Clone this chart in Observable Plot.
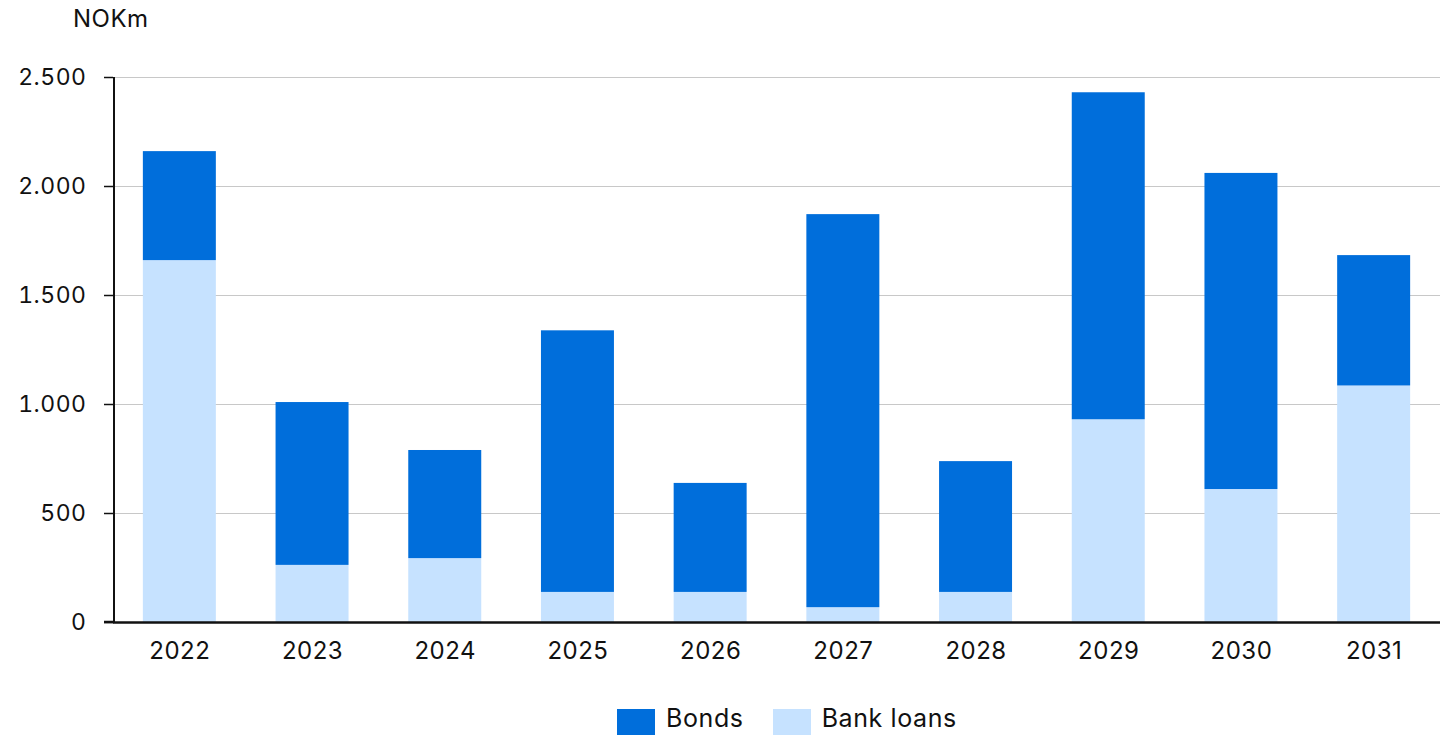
<!DOCTYPE html>
<html>
<head>
<meta charset="utf-8">
<script src="https://cdn.jsdelivr.net/npm/d3@7"></script>
<script src="https://cdn.jsdelivr.net/npm/@observablehq/plot@0.6"></script>
<style>
  html, body { margin: 0; padding: 0; background: #fff; overflow: hidden; }
  body { font-family: Inter, "Open Sans", sans-serif; color: #111; }
  #wrap { position: relative; width: 1452px; height: 735px; }
  #unit { position: absolute; left: 73px; top: 4px; font-size: 24px; letter-spacing: 0.5px; }
  #chart { position: absolute; left: 0; top: 0; }
  #legend { position: absolute; left: 617px; top: 703px; display: flex; align-items: flex-start; font-size: 25px; }
  .item { display: flex; align-items: flex-start; margin-right: 29px; }
  .sw { width: 38px; height: 38px; margin-right: 11px; margin-top: 6px; }
  .lab { line-height: 30px; letter-spacing: 0.6px; }
</style>
</head>
<body>
<div id="wrap">
  <div id="chart"></div>
  <div id="unit">NOKm</div>
  <div id="legend"></div>
</div>
<script>
const years = ["2022","2023","2024","2025","2026","2027","2028","2029","2030","2031"];
const bankLoans = [1660, 262, 293, 138, 138, 68, 138, 930, 610, 1085];
const bonds = [500, 747, 496, 1200, 500, 1803, 600, 1500, 1450, 598];
const seriesNames = ["Bonds", "Bank loans"];
const seriesColors = ["#006EDB", "#C6E2FF"];
const yTicks = [0, 500, 1000, 1500, 2000, 2500];

const rows = [];
years.forEach((y, i) => {
  rows.push({year: y, series: "Bank loans", value: bankLoans[i]});
  rows.push({year: y, series: "Bonds", value: bonds[i]});
});

const loc = d3.formatLocale({decimal: ",", thousands: ".", grouping: [3], currency: ["", ""]});
const fmt = loc.format(",d");

const chart = Plot.plot({
  width: 1452,
  height: 700,
  marginTop: 77,
  marginBottom: 78,
  marginLeft: 113,
  marginRight: 12,
  style: {fontFamily: "Inter, 'Open Sans', sans-serif", fontSize: "23px", color: "#111", background: "white"},
  x: {domain: years, paddingInner: 0.45, paddingOuter: 0.225, round: false, label: null},
  y: {domain: [0, 2500], label: null},
  color: {domain: seriesNames, range: seriesColors},
  marks: [
    Plot.gridY(yTicks, {stroke: "#c8c8c8", strokeOpacity: 1, strokeWidth: 1}),
    Plot.barY(rows, Plot.stackY({order: ["Bank loans", "Bonds"]}, {x: "year", y: "value", fill: "series"})),
    Plot.axisY(yTicks, {tickSize: 9, tickPadding: 18, tickFormat: fmt, stroke: "#111", strokeWidth: 1.5, label: null, fontSize: 23}),
    Plot.axisX({tickSize: 0, tickPadding: 19, label: null, fontSize: 24}),
    Plot.ruleY([0], {stroke: "#111", strokeWidth: 2.5}),
  ]
});
document.getElementById("chart").appendChild(chart);

const svg = d3.select(chart);
svg.selectAll("text").style("letter-spacing", "0.5px");
const yScale = chart.scale("y");
svg.append("line")
  .attr("x1", 114).attr("x2", 114)
  .attr("y1", yScale.apply(2500)).attr("y2", yScale.apply(0))
  .attr("stroke", "#111").attr("stroke-width", 2);
svg.append("line")
  .attr("x1", 104).attr("x2", 114)
  .attr("y1", yScale.apply(0)).attr("y2", yScale.apply(0))
  .attr("stroke", "#111").attr("stroke-width", 2.5);

const legend = document.getElementById("legend");
seriesNames.forEach((n, i) => {
  const it = document.createElement("div");
  it.className = "item";
  it.innerHTML = `<div class="sw" style="background:${seriesColors[i]}"></div><div class="lab">${n}</div>`;
  legend.appendChild(it);
});
</script>
</body>
</html>
